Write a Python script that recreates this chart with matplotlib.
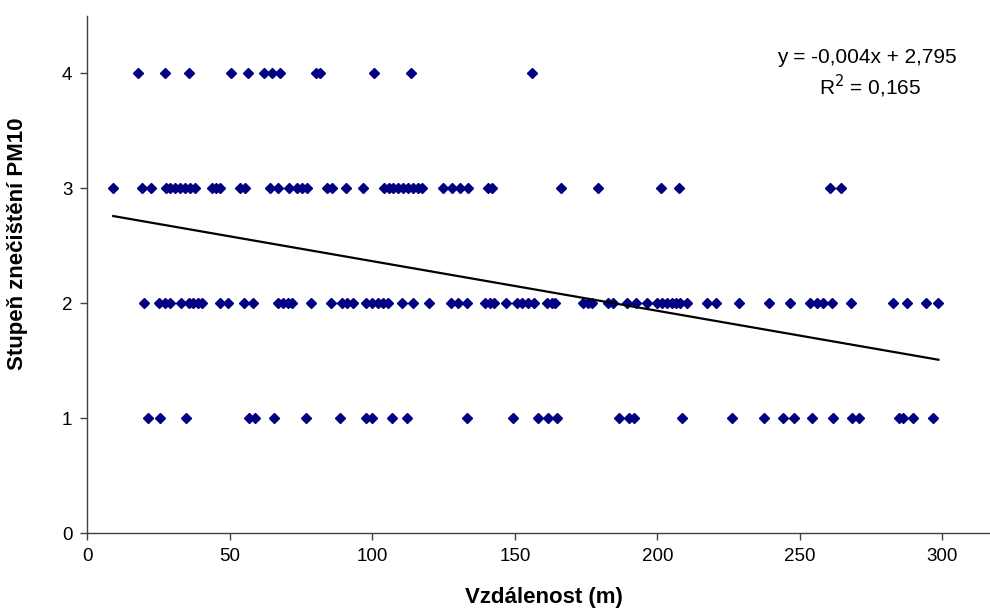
import numpy as np
import matplotlib
matplotlib.use("Agg")
import matplotlib.pyplot as plt

plt.rcParams['font.family'] = ['Liberation Sans', 'DejaVu Sans']

# vzdalenost (m) pro jednotlive stupne znecisteni
x_st4 = [17.7, 27.1, 35.8, 50.4, 56.5, 62.1, 64.7, 67.6, 80.2, 81.7, 100.5, 113.6, 155.9]
x_st3 = [9.1, 19.3, 22.4, 27.5, 29.1, 30.8, 32.5, 34.3, 36.0, 37.8, 43.6, 45.2, 46.7,
         53.6, 55.3, 64.1, 66.8, 70.8, 73.5, 75.2, 77.0, 84.0, 85.8, 90.8, 96.6,
         104.1, 105.9, 107.4, 109.1, 110.9, 112.6, 114.4, 116.1, 117.5,
         124.9, 127.9, 130.8, 133.7, 140.7, 141.9,
         166.2, 179.3, 201.3, 207.5, 260.6, 264.4]
x_st2 = [19.8, 25.2, 27.3, 29.0, 32.8, 35.7, 37.2, 38.7, 40.4, 46.6, 49.5, 54.8, 58.0,
         67.0, 68.8, 70.5, 71.9, 78.5, 85.5, 89.3, 91.2, 93.3, 97.8, 99.8, 101.9,
         103.9, 105.6, 110.3, 114.4, 120.0, 127.6, 130.2, 133.1, 139.5, 141.3, 142.8,
         146.8, 150.7, 152.5, 154.7, 156.8, 161.2, 163.0, 164.1, 174.0, 175.8, 177.0,
         182.8, 184.3, 189.5, 192.4, 196.5, 200.0, 201.5, 203.3, 205.1, 206.5, 208.0,
         210.3, 217.3, 220.5, 228.8, 239.3, 246.6, 253.6, 255.9, 258.2, 261.2, 267.9,
         282.8, 287.7, 294.3, 298.6]
x_st1 = [21.2, 25.5, 34.6, 56.8, 58.8, 65.5, 76.7, 88.7, 97.7, 99.8, 107.0, 112.1,
         133.1, 149.3, 158.0, 161.8, 164.7, 186.6, 190.2, 191.8, 208.8, 226.2, 237.5,
         244.1, 247.9, 254.4, 261.6, 268.4, 270.8, 284.6, 286.1, 289.6, 296.8]

x = np.array(x_st4 + x_st3 + x_st2 + x_st1)
y = np.array([4] * len(x_st4) + [3] * len(x_st3) + [2] * len(x_st2) + [1] * len(x_st1))

# linearni trend
k, q = np.polyfit(x, y, 1)
xt = np.array([x.min(), x.max()])

fig = plt.figure(figsize=(9.9, 6.1), dpi=100)
ax = fig.add_axes([0.0882, 0.1257, 0.9118, 0.8481])

ax.plot(x, y, linestyle='none', marker='D', markersize=5.2, color='#000080')
ax.plot(xt, k * xt + q, color='black', linewidth=1.6)

ax.set_xlim(0, 316.7)
ax.set_ylim(0, 4.5)
ax.set_xticks([0, 50, 100, 150, 200, 250, 300])
ax.set_yticks([0, 1, 2, 3, 4])

for s in ['top', 'right']:
    ax.spines[s].set_visible(False)
for s in ['left', 'bottom']:
    ax.spines[s].set_color('#404040')
    ax.spines[s].set_linewidth(1.0)
ax.tick_params(colors='#404040', labelcolor='black', labelsize=13.5, length=4.8, width=1, pad=6)

ax.set_xlabel('Vzdálenost (m)', fontsize=16, fontweight='bold')
ax.set_ylabel('Stupeň znečištění PM10', fontsize=16, fontweight='bold')
ax.xaxis.set_label_coords(0.506, -0.104)
ax.yaxis.set_label_coords(-0.066, 0.56)

fig.text(867 / 990, 1 - 63 / 610, 'y = -0,004x + 2,795', ha='center', va='baseline', fontsize=15)
fig.text(870 / 990, 1 - 95 / 610, 'R$^2$ = 0,165', ha='center', va='baseline', fontsize=15)

fig.savefig('out.png', dpi=100)
